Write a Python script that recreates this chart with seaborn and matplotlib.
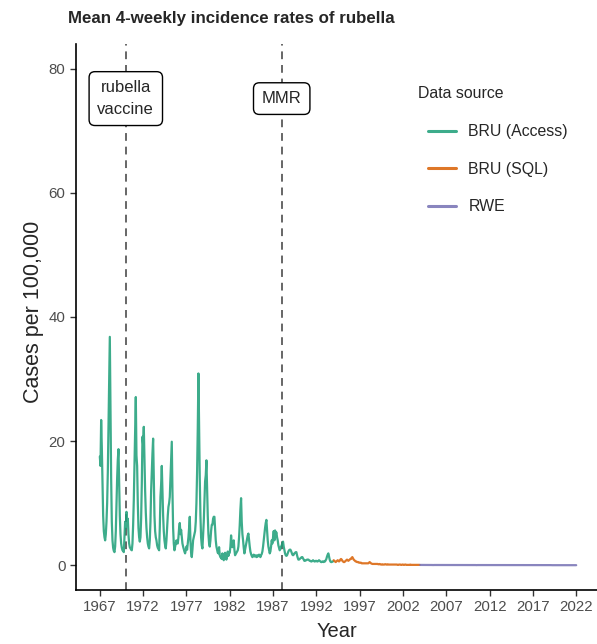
import matplotlib
matplotlib.use("Agg")
import matplotlib.pyplot as plt
import seaborn as sns
import pandas as pd
import numpy as np

# 4-weekly mean incidence (cases per 100,000), one row per year, 13 periods each
access_start = 1967
bru_access = [
    [17.5, 16.0, 23.4, 19.0, 13.0, 8.0, 5.5, 4.5, 4.0, 5.0, 7.0, 10.0, 15.0],
    [22.0, 30.0, 36.8, 26.0, 14.0, 7.0, 4.0, 2.8, 2.3, 2.1, 3.0, 5.5, 10.0],
    [14.0, 17.0, 18.7, 13.5, 8.0, 5.0, 3.5, 2.8, 2.4, 2.3, 2.1, 4.5, 7.0],
    [6.0, 8.6, 6.5, 7.5, 5.0, 3.5, 2.9, 2.7, 2.5, 2.4, 3.5, 6.5, 10.5],
    [16.0, 22.0, 27.1, 17.7, 16.0, 10.0, 6.0, 4.5, 3.8, 4.5, 7.5, 13.0, 20.7],
    [19.5, 22.3, 17.0, 12.0, 8.5, 6.0, 4.5, 3.5, 3.0, 2.7, 4.0, 7.0, 12.0],
    [15.0, 18.0, 20.4, 14.0, 8.0, 5.5, 4.5, 4.0, 3.2, 2.8, 2.6, 2.4, 6.0],
    [11.0, 13.0, 16.0, 12.0, 8.0, 5.5, 4.0, 3.2, 2.7, 4.0, 6.0, 8.0, 9.4],
    [10.0, 11.0, 14.0, 17.0, 19.9, 12.0, 6.0, 3.5, 2.4, 3.0, 3.5, 4.0, 3.5],
    [3.5, 4.5, 6.0, 6.8, 5.0, 5.7, 4.5, 3.5, 3.0, 2.6, 2.2, 1.9, 2.5],
    [3.0, 2.5, 3.5, 4.5, 6.0, 7.8, 4.0, 2.0, 1.3, 2.5, 4.0, 4.5, 5.0],
    [5.5, 7.0, 10.0, 15.0, 22.0, 30.9, 22.0, 14.0, 8.0, 4.5, 3.2, 2.7, 5.0],
    [7.0, 10.0, 13.5, 14.5, 16.9, 12.6, 8.0, 5.0, 3.5, 3.0, 4.0, 5.5, 6.5],
    [6.5, 7.5, 7.8, 7.8, 6.0, 4.0, 3.0, 2.5, 2.0, 1.9, 2.9, 1.6, 1.3],
    [1.2, 1.0, 1.9, 1.2, 0.8, 1.5, 2.0, 1.2, 0.9, 1.4, 2.2, 1.5, 2.0],
    [2.0, 3.0, 4.8, 3.5, 2.9, 3.5, 4.0, 2.5, 1.6, 1.8, 2.0, 2.2, 2.4],
    [3.0, 4.5, 6.5, 9.0, 10.8, 7.0, 5.0, 4.0, 2.8, 1.9, 2.5, 3.2, 3.8],
    [4.2, 4.8, 5.1, 4.0, 3.0, 2.2, 1.8, 1.5, 1.3, 1.5, 1.7, 1.4, 1.6],
    [1.5, 1.3, 1.6, 1.4, 1.5, 1.7, 1.5, 1.3, 1.6, 1.8, 2.2, 3.0, 4.0],
    [5.0, 6.0, 6.8, 7.3, 5.5, 4.0, 3.0, 2.4, 1.9, 2.2, 3.0, 4.0, 3.5],
    [4.5, 5.5, 4.0, 5.6, 5.0, 5.3, 4.5, 4.0, 3.2, 2.8, 2.4, 2.6, 3.0],
    [3.2, 3.6, 3.8, 3.0, 2.4, 1.9, 1.6, 1.5, 1.6, 1.9, 2.2, 2.4, 2.5],
    [2.5, 2.3, 2.0, 1.7, 1.6, 1.7, 1.9, 2.0, 2.1, 2.1, 1.6, 1.2, 0.9],
    [0.9, 1.0, 1.1, 1.2, 1.3, 1.3, 1.1, 0.9, 0.7, 0.7, 0.8, 0.8, 0.9],
    [0.9, 0.9, 0.8, 0.7, 0.7, 0.6, 0.6, 0.7, 0.8, 0.7, 0.6, 0.6, 0.7],
    [0.7, 0.6, 0.6, 0.7, 0.8, 0.7, 0.6, 0.5, 0.5, 0.6, 0.6, 0.5, 0.6],
    [0.6, 0.8, 1.0, 1.4, 1.7, 1.9, 1.4, 0.9, 0.6, 0.5, 0.5, 0.6, 0.6],
]

sql_start = 1994
bru_sql = [
    [0.8, 0.7, 0.6, 0.5, 0.6, 0.7, 0.8, 0.7, 0.6, 0.7, 0.9, 1.0, 0.9],
    [0.7, 0.6, 0.5, 0.5, 0.6, 0.7, 0.8, 0.9, 0.8, 0.7, 0.8, 0.9, 1.0],
    [1.0, 1.2, 1.3, 1.1, 0.9, 0.8, 0.7, 0.6, 0.6, 0.5, 0.5, 0.5, 0.4],
    [0.4, 0.4, 0.4, 0.3, 0.3, 0.3, 0.3, 0.3, 0.3, 0.3, 0.3, 0.3, 0.3],
    [0.3, 0.4, 0.5, 0.4, 0.3, 0.25, 0.2, 0.2, 0.2, 0.2, 0.2, 0.2, 0.2],
    [0.2, 0.2, 0.15, 0.15, 0.2, 0.15, 0.1, 0.1, 0.15, 0.1, 0.1, 0.1, 0.15],
    [0.15, 0.1, 0.1, 0.15, 0.1, 0.1, 0.1, 0.1, 0.1, 0.1, 0.1, 0.1, 0.1],
    [0.1, 0.1, 0.1, 0.1, 0.1, 0.05, 0.05, 0.1, 0.1, 0.1, 0.05, 0.05, 0.1],
    [0.1, 0.05, 0.05, 0.1, 0.1, 0.05, 0.05, 0.05, 0.05, 0.05, 0.05, 0.1, 0.05],
    [0.05, 0.05, 0.05, 0.05, 0.05, 0.05, 0.05, 0.05, 0.05, 0.05, 0.05, 0.05, 0.05],
]

rwe_start = 2004
rwe = [
    [0.04, 0.04, 0.03, 0.04, 0.03, 0.03, 0.03, 0.04, 0.03, 0.03, 0.03, 0.04, 0.03],
    [0.03, 0.04, 0.03, 0.03, 0.03, 0.03, 0.02, 0.03, 0.03, 0.03, 0.03, 0.03, 0.03],
    [0.03, 0.03, 0.04, 0.03, 0.03, 0.02, 0.02, 0.03, 0.03, 0.03, 0.02, 0.03, 0.03],
    [0.03, 0.03, 0.03, 0.03, 0.02, 0.02, 0.02, 0.02, 0.03, 0.02, 0.02, 0.02, 0.03],
    [0.02, 0.03, 0.03, 0.02, 0.02, 0.02, 0.02, 0.02, 0.02, 0.02, 0.02, 0.02, 0.02],
    [0.02, 0.02, 0.02, 0.03, 0.02, 0.02, 0.02, 0.02, 0.02, 0.02, 0.02, 0.02, 0.02],
    [0.02, 0.02, 0.02, 0.02, 0.02, 0.02, 0.01, 0.02, 0.02, 0.02, 0.02, 0.02, 0.02],
    [0.02, 0.02, 0.01, 0.02, 0.02, 0.01, 0.01, 0.02, 0.02, 0.01, 0.01, 0.02, 0.01],
    [0.01, 0.02, 0.01, 0.01, 0.01, 0.01, 0.01, 0.01, 0.02, 0.01, 0.01, 0.01, 0.01],
    [0.01, 0.01, 0.01, 0.01, 0.01, 0.01, 0.01, 0.01, 0.01, 0.01, 0.01, 0.01, 0.01],
    [0.01, 0.01, 0.01, 0.02, 0.01, 0.01, 0.01, 0.01, 0.01, 0.01, 0.01, 0.01, 0.01],
    [0.01, 0.01, 0.01, 0.01, 0.01, 0.01, 0.01, 0.01, 0.01, 0.01, 0.01, 0.01, 0.01],
    [0.01, 0.01, 0.01, 0.01, 0.01, 0.01, 0.01, 0.01, 0.01, 0.01, 0.01, 0.01, 0.01],
    [0.01, 0.01, 0.01, 0.01, 0.01, 0.01, 0.01, 0.01, 0.01, 0.01, 0.01, 0.01, 0.01],
    [0.01, 0.01, 0.01, 0.01, 0.01, 0.01, 0.01, 0.01, 0.01, 0.01, 0.01, 0.01, 0.01],
    [0.01, 0.01, 0.00, 0.00, 0.00, 0.00, 0.00, 0.00, 0.00, 0.00, 0.00, 0.00, 0.00],
    [0.00, 0.00, 0.00, 0.00, 0.00, 0.00, 0.00, 0.00, 0.00, 0.00, 0.00, 0.00, 0.00],
    [0.00, 0.00, 0.00, 0.00, 0.00, 0.00, 0.00, 0.00, 0.00, 0.00, 0.00, 0.00, 0.00],
    [0.00],
]

sources = ["BRU (Access)", "BRU (SQL)", "RWE"]
colours = ["#1B9E77", "#D95F02", "#7570B3"]
x_ticks = list(range(1967, 2023, 5))
y_ticks = [0, 20, 40, 60, 80]
events = [(1970.0, "rubella\nvaccine"), (1988.0, "MMR")]


def to_frame(rows, start, name):
    recs = []
    for i, row in enumerate(rows):
        for k, v in enumerate(row):
            recs.append({"year": start + i + k / 13, "rate": v, "source": name})
    return recs


df = pd.DataFrame(
    to_frame(bru_access, access_start, sources[0])
    + to_frame(bru_sql, sql_start, sources[1])
    + to_frame(rwe, rwe_start, sources[2])
)

sns.set_style("ticks")
plt.rcParams["font.family"] = ["Liberation Sans", "DejaVu Sans"]

fig = plt.figure(figsize=(5.97, 6.44), dpi=100)
ax = fig.add_axes([76 / 597, 54 / 644, 521 / 597, 546 / 644])

for x, label in events:
    ax.axvline(x, color="#666666", ls=(0, (4, 3)), lw=1.4, zorder=1)
    ax.text(x, 75.2, label, ha="center", va="center", fontsize=12, zorder=5,
            linespacing=1.6,
            bbox=dict(boxstyle="round,pad=0.5,rounding_size=0.35", fc="white",
                      ec="black", lw=1.0))

sns.lineplot(data=df, x="year", y="rate", hue="source", hue_order=sources,
             palette=colours, estimator=None, lw=1.6, alpha=0.85, ax=ax, zorder=3)

ax.set_xlim(1964.25, 2024.4)
ax.set_ylim(-4, 84)
ax.set_xticks(x_ticks)
ax.set_yticks(y_ticks)
ax.tick_params(axis="both", colors="#333333", labelcolor="#4D4D4D",
               labelsize=10.8, length=4, width=1.0)
for s in ["top", "right"]:
    ax.spines[s].set_visible(False)
for s in ["left", "bottom"]:
    ax.spines[s].set_linewidth(1.2)
    ax.spines[s].set_color("black")

ax.set_xlabel("Year", fontsize=14.5)
ax.set_ylabel("Cases per 100,000", fontsize=15.5)
ax.xaxis.set_label_coords(0.5, (590 - 622) / 546)
ax.yaxis.set_label_coords((44 - 76) / 521, 0.51)
fig.text(68 / 597, 1 - 18 / 644, "Mean 4-weekly incidence rates of rubella",
         fontsize=12.2, fontweight="bold", ha="left", va="center")

# legend title drawn separately so the keys sit indented under it, as in the reference
fig.text(418 / 597, 1 - 93 / 644, "Data source", fontsize=11.4, ha="left", va="center")
leg = ax.legend(frameon=False, loc="upper left",
                bbox_to_anchor=((414 - 76) / 521, (590 - 110) / 546),
                fontsize=11.4, handlelength=1.75, handletextpad=0.78,
                labelspacing=1.42)
for line in leg.get_lines():
    line.set_linewidth(2.2)

fig.savefig("out.png", dpi=100)
